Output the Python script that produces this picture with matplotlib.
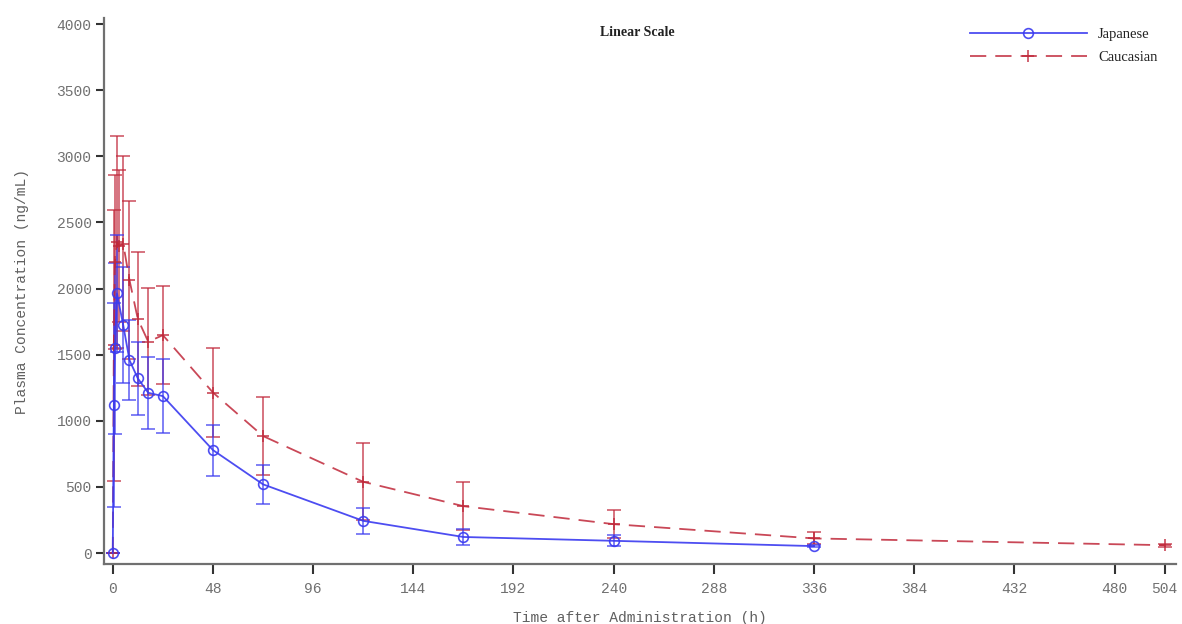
import matplotlib
matplotlib.use("Agg")
import matplotlib.pyplot as plt
import numpy as np

# Japanese
jp_time = [0, 0.5, 1, 2, 5, 8, 12, 17, 24, 48, 72, 120, 168, 240, 336]
jp_mean = [0, 1119, 1548, 1963, 1724, 1459, 1321, 1212, 1187, 779, 520, 244, 122, 93, 53]
jp_sd = [0, 770, 645, 442, 441, 300, 278, 273, 280, 193, 148, 98, 58, 41, 10]

# Caucasian
ca_time = [0, 0.5, 1, 2, 3, 5, 8, 12, 17, 24, 48, 72, 120, 168, 240, 336, 504]
ca_mean = [0, 1570, 2200, 2350, 2320, 2340, 2064, 1770, 1598, 1648, 1214, 885, 539, 355, 219, 111, 60]
ca_sd = [0, 1024, 658, 800, 576, 662, 598, 510, 406, 373, 334, 297, 290, 180, 106, 45, 10]

xticks = [0, 48, 96, 144, 192, 240, 288, 336, 384, 432, 480, 504]
yticks = [0, 500, 1000, 1500, 2000, 2500, 3000, 3500, 4000]

blue = "#3a3af0"
red = "#c0283a"

fig = plt.figure(figsize=(11.82, 6.24), dpi=100)
ax = fig.add_axes([0.088, 0.096, 0.907, 0.875])

ax.errorbar(ca_time, ca_mean, yerr=ca_sd, color=red, ecolor=red, elinewidth=1.3,
            capsize=5, capthick=1.3, fmt="none", zorder=2)
ax.errorbar(jp_time, jp_mean, yerr=jp_sd, color=blue, ecolor=blue, elinewidth=1.3,
            capsize=5, capthick=1.3, fmt="none", zorder=2)
for c in ax.collections:
    c.set_alpha(0.7)
for l in ax.lines:
    l.set_alpha(0.7)

ax.plot(ca_time, ca_mean, color=red, linestyle=(0, (9, 5)), linewidth=1.3,
        marker="+", markersize=8, markeredgewidth=1.2, label="Caucasian", zorder=3, alpha=0.85)
ax.plot(jp_time, jp_mean, color=blue, linestyle="-", linewidth=1.3,
        marker="o", markersize=7, markerfacecolor="none", markeredgewidth=1.2,
        label="Japanese", zorder=4, alpha=0.9)

ax.set_xlim(-4.2, 509.5)
ax.set_ylim(-83, 4045)
ax.set_xticks(xticks)
ax.set_yticks(yticks)
ax.set_xticklabels([str(v) for v in xticks])
ax.set_yticklabels([str(v) for v in yticks])

mono = "Liberation Mono"
for lab in ax.get_xticklabels() + ax.get_yticklabels():
    lab.set_fontfamily(mono)
    lab.set_fontsize(10.5)
    lab.set_color("#707070")

ax.spines["top"].set_visible(False)
ax.spines["right"].set_visible(False)
for s in ["left", "bottom"]:
    ax.spines[s].set_color("#707070")
    ax.spines[s].set_linewidth(1.6)
ax.tick_params(axis="x", direction="out", length=7, width=1.5, color="#333333", pad=6)
ax.tick_params(axis="y", direction="out", length=6, width=1.5, color="#333333", pad=3)

ax.set_xlabel("Time after Administration (h)", fontfamily=mono, fontsize=10.5,
              color="#606060", labelpad=11)
ax.set_ylabel("Plasma Concentration (ng/mL)", fontfamily=mono, fontsize=10.5,
              color="#606060", labelpad=20)

ax.text(0.497, 0.985, "Linear Scale", transform=ax.transAxes, ha="center", va="top",
        fontfamily="Liberation Serif", fontweight="bold", fontsize=10, color="#222222")

h, l = ax.get_legend_handles_labels()
leg = ax.legend(h[::-1], l[::-1], loc="upper right", bbox_to_anchor=(0.995, 1.006),
                frameon=False, handlelength=8.0, handletextpad=0.8, labelspacing=0.65,
                prop={"family": "Liberation Serif", "size": 10.5})
for t in leg.get_texts():
    t.set_color("#222222")

fig.savefig("out.png", dpi=100)
